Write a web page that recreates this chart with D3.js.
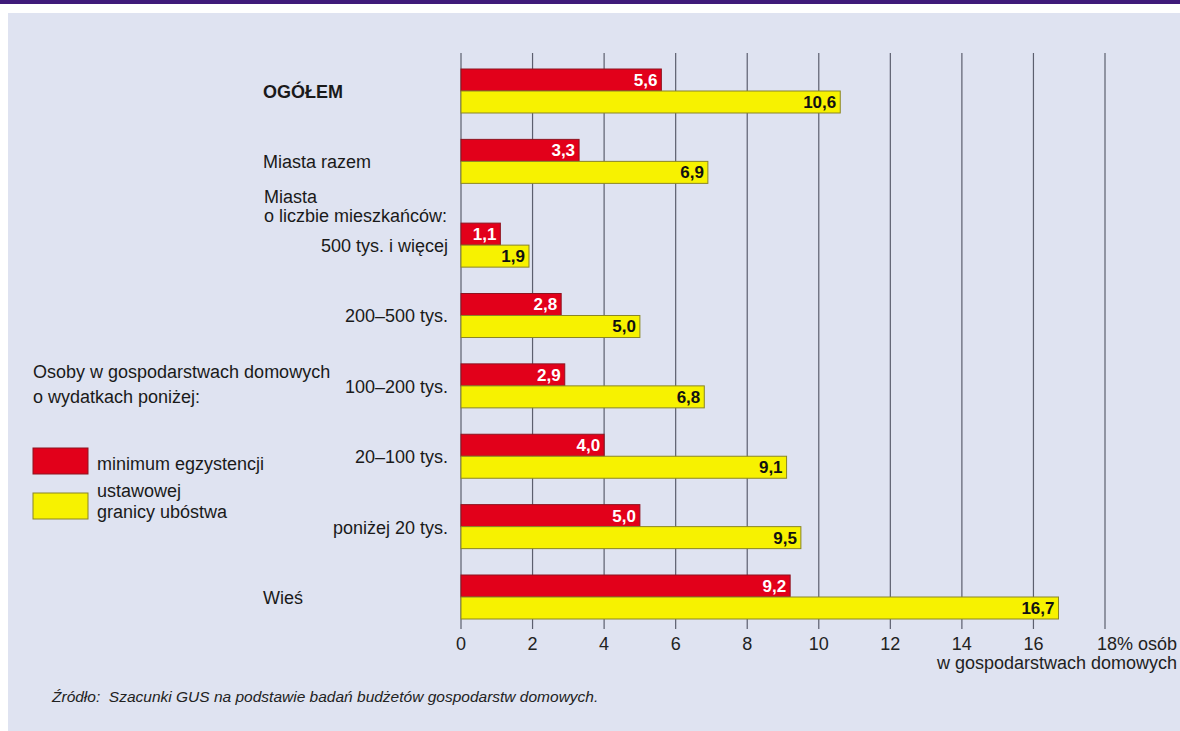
<!DOCTYPE html>
<html>
<head>
<meta charset="utf-8">
<script src="https://cdn.jsdelivr.net/npm/d3@7"></script>
<style>
  body { margin: 0; background: #fff; }
  svg text { font-family: "Liberation Sans", Arial, sans-serif; }
  .cat { font-size: 18px; fill: #1a1a1a; }
  .val { font-size: 17px; font-weight: bold; }
  .tick-label { font-size: 18px; fill: #222; }
  .legend { font-size: 18px; fill: #1a1a1a; }
  .source { font-size: 15.5px; font-style: italic; fill: #222; white-space: pre; }
</style>
</head>
<body>
<svg id="chart" width="1180" height="731"></svg>
<script>
/* data */
const categories = ['OGÓŁEM', 'Miasta razem', '500 tys. i więcej', '200–500 tys.', '100–200 tys.', '20–100 tys.', 'poniżej 20 tys.', 'Wieś'];
const minimumValues = [5.6, 3.3, 1.1, 2.8, 2.9, 4.0, 5.0, 9.2];
const povertyValues = [10.6, 6.9, 1.9, 5.0, 6.8, 9.1, 9.5, 16.7];
const tickValues = [0, 2, 4, 6, 8, 10, 12, 14, 16, 18];
const seriesNames = ['minimum egzystencji', 'ustawowej|granicy ubóstwa'];

const red = '#e2001a', yellow = '#f7f200';
let svg = d3.select('#chart');

// background: purple strip on top + light blue panel
svg.append('rect').attr('x', 0).attr('y', 0).attr('width', 1180).attr('height', 4).attr('fill', '#3f1a7a');
svg.append('rect').attr('x', 8).attr('y', 13).attr('width', 1172).attr('height', 718).attr('fill', '#dfe3f1');

let x = d3.scaleLinear().domain([0, 18]).range([461, 1105]);

// row position: sub-city rows get pushed down a bit to leave room for the header
let rowPos = (i) => i + (i >= 2 ? 0.19 : 0);
let y = d3.scaleLinear().domain([0, rowPos(7)]).range([69, 575]);
const barH = 22;

// grid lines
svg.append('g').selectAll('line').data(tickValues).join('line')
    .attr('x1', d => x(d)).attr('x2', d => x(d))
    .attr('y1', 53).attr('y2', 629)
    .attr('stroke', '#5c5f6e').attr('stroke-width', 1.2);

// tick labels (last one carries the unit)
svg.append('g').selectAll('text').data(tickValues).join('text')
    .classed('tick-label', true)
    .attr('x', d => d === 18 ? 1177 : x(d)).attr('y', 650)
    .attr('text-anchor', d => d === 18 ? 'end' : 'middle')
    .text(d => d === 18 ? '18% osób' : d);
svg.append('text').classed('tick-label', true)
    .attr('x', 1177).attr('y', 669).attr('text-anchor', 'end')
    .text('w gospodarstwach domowych');

// bars
let groups = svg.append('g').selectAll('g').data(categories).join('g')
    .attr('transform', (d, i) => 'translate(0,' + y(rowPos(i)) + ')');

groups.append('rect')
    .attr('x', x(0)).attr('y', 0)
    .attr('width', (d, i) => x(minimumValues[i]) - x(0)).attr('height', barH)
    .attr('fill', red).attr('stroke', '#8e1420').attr('stroke-width', 1);
groups.append('rect')
    .attr('x', x(0)).attr('y', barH)
    .attr('width', (d, i) => x(povertyValues[i]) - x(0)).attr('height', barH)
    .attr('fill', yellow).attr('stroke', '#8a8626').attr('stroke-width', 1);

let fmt = v => v.toFixed(1).replace('.', ',');
groups.append('text').classed('val', true)
    .attr('x', (d, i) => x(minimumValues[i]) - 4).attr('y', 17)
    .attr('text-anchor', 'end').attr('fill', '#fff')
    .text((d, i) => fmt(minimumValues[i]));
groups.append('text').classed('val', true)
    .attr('x', (d, i) => x(povertyValues[i]) - 4).attr('y', barH + 17)
    .attr('text-anchor', 'end').attr('fill', '#111')
    .text((d, i) => fmt(povertyValues[i]));

// category labels
groups.append('text').classed('cat', true)
    .attr('x', (d, i) => (i < 2 || i === 7) ? 263 : 448)
    .attr('y', 29)
    .attr('text-anchor', (d, i) => (i < 2 || i === 7) ? 'start' : 'end')
    .attr('font-weight', (d, i) => i === 0 ? 'bold' : null)
    .text(d => d);

// sub-header for city sizes
svg.append('text').classed('cat', true).attr('x', 264).attr('y', 203).text('Miasta');
svg.append('text').classed('cat', true).attr('x', 264).attr('y', 222).text('o liczbie mieszkańców:');

// legend
svg.append('text').classed('legend', true).attr('x', 33).attr('y', 378).text('Osoby w gospodarstwach domowych');
svg.append('text').classed('legend', true).attr('x', 33).attr('y', 403).text('o wydatkach poniżej:');
let legend = svg.append('g').selectAll('g').data(seriesNames).join('g')
    .attr('transform', (d, i) => 'translate(33,' + (448 + i * 45) + ')');
legend.append('rect').attr('width', 55).attr('height', 26)
    .attr('fill', (d, i) => i === 0 ? red : yellow)
    .attr('stroke', (d, i) => i === 0 ? '#8e1420' : '#8a8626');
legend.each(function(d, i) {
    let lines = d.split('|');
    let t = d3.select(this).append('text').classed('legend', true);
    lines.forEach((l, j) => {
        t.append('tspan').attr('x', 64)
            .attr('y', lines.length === 1 ? 22 : 4 + j * 21)
            .text(l);
    });
});

// source note
svg.append('text').classed('source', true).attr('x', 52).attr('y', 702)
    .text('Źródło:  Szacunki GUS na podstawie badań budżetów gospodarstw domowych.');
</script>
</body>
</html>
